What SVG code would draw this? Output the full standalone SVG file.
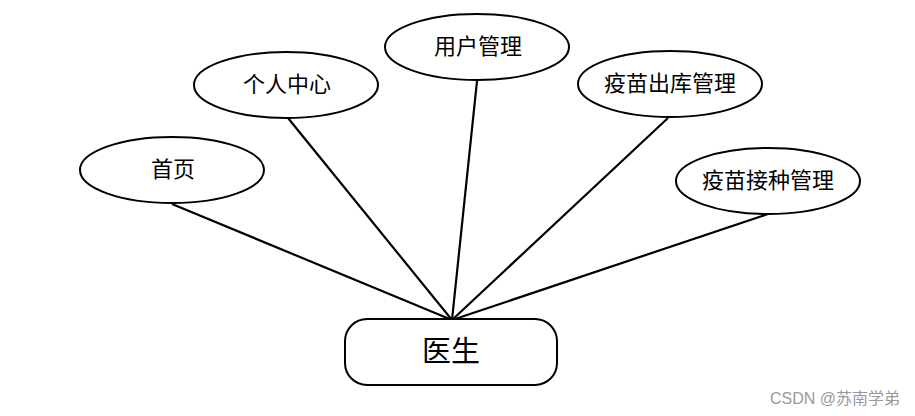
<svg xmlns="http://www.w3.org/2000/svg" width="915" height="416" viewBox="0 0 915 416">
<style>
.n{fill:#fff;stroke:#000;stroke-width:2}
.t{font-family:"Liberation Serif","Noto Sans CJK SC",serif;font-size:22px;fill:#000;text-anchor:middle;dominant-baseline:central}
.c line{stroke:#000;stroke-width:2.2}
</style>
<rect width="915" height="416" fill="#fff"/>
<g class="c" id="connectors">
<line x1="172" y1="204" x2="452" y2="320"/>
<line x1="288" y1="118" x2="452" y2="320"/>
<line x1="477" y1="81" x2="452" y2="320"/>
<line x1="668" y1="118" x2="452" y2="320"/>
<line x1="768" y1="214" x2="452" y2="320"/>
</g>
<g id="n_home"><ellipse class="n" cx="172" cy="170" rx="92" ry="33"/><text class="t" x="173" y="169">首页</text></g>
<g id="n_center"><ellipse class="n" cx="286" cy="85" rx="92" ry="33"/><text class="t" x="287" y="84">个人中心</text></g>
<g id="n_user"><ellipse class="n" cx="477" cy="47" rx="92" ry="33"/><text class="t" x="478" y="46">用户管理</text></g>
<g id="n_out"><ellipse class="n" cx="670" cy="84" rx="92" ry="33"/><text class="t" x="670" y="83">疫苗出库管理</text></g>
<g id="n_vacc"><ellipse class="n" cx="768" cy="181" rx="92" ry="33"/><text class="t" x="768" y="180">疫苗接种管理</text></g>
<g id="n_doctor"><rect class="n" x="345" y="319" width="212" height="66" rx="22"/><text class="t" x="451" y="352" style="font-size:29px">医生</text></g>
<text x="900" y="404" style="font-family:'Liberation Sans','Noto Sans CJK SC',sans-serif;font-size:16px;fill:#999;text-anchor:end">CSDN @苏南学弟</text>
</svg>
